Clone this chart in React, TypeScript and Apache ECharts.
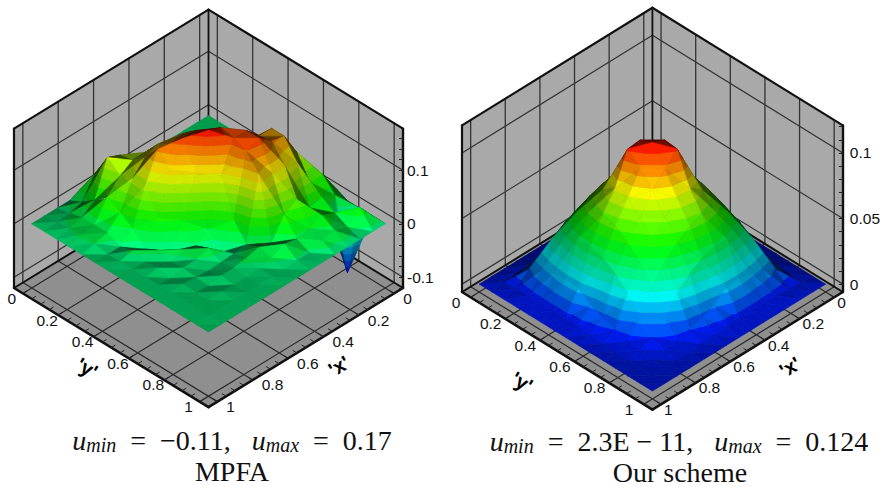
import React, { useEffect, useRef } from "react";
import * as echarts from "echarts";

// Heights on a 15 x 15 node mesh; row = x index, column = y index.
const mpfaHeights: number[][] = [
  [0,0,0,0,0,0,0,0,0,0,0,0,0,0,0],
  [0,0,0,0,0,.005,.012,.025,.04,.03,.05,.025,-.105,.03,0],
  [0,0,0,0,.005,.012,.03,.05,.09,.09,.05,.035,.02,.008,0],
  [0,0,0,.005,.012,.03,.05,.08,.135,.135,.1,.03,.03,.016,0],
  [0,0,.006,.012,.03,.05,.075,.11,.135,.14,.11,.06,.02,.012,0],
  [0,.005,.012,.03,.045,.075,.1,.135,.16,.16,.11,.045,.015,.003,0],
  [0,.012,.03,.05,.07,.1,.13,.165,.16,.15,.12,.008,.02,.004,0],
  [0,.02,.05,.075,.095,.14,.16,.175,.105,.036,.004,.014,.008,.001,0],
  [0,.045,.055,.09,.12,.135,.16,.11,.018,-.01,.002,.008,.003,.002,0],
  [0,.065,.085,.09,.11,.14,.115,.034,.002,.012,0,.004,.001,.001,0],
  [0,.05,.095,.075,.085,.085,.04,-.008,.01,.005,-.001,.004,.001,.001,0],
  [0,.012,.03,.05,.035,.02,-.004,.008,.001,.004,.001,-.001,.003,.001,0],
  [0,.005,.012,.012,.012,0,.008,.001,.004,-.001,.003,.001,.001,.001,0],
  [0,.003,.006,.008,.006,0,.002,.001,.001,.001,.001,.001,.001,.001,0],
  [0,0,0,0,0,0,0,0,0,0,0,0,0,0,0],
];
const schemeHeights: number[][] = [
  [0,0,0,0,0,0,0,0,0,0,0,0,0,0,0],
  [0,0,.0001,.0001,.0005,.001,.002,.003,.003,.003,.003,.003,.002,.0012,0],
  [0,.0001,.0005,.002,.003,.006,.009,.013,.02,.021,.019,.016,.011,.002,0],
  [0,.0001,.002,.006,.014,.028,.037,.043,.046,.046,.042,.036,.016,.003,0],
  [0,.0005,.003,.014,.033,.046,.055,.062,.065,.062,.056,.042,.019,.003,0],
  [0,.001,.006,.028,.046,.058,.068,.077,.079,.072,.062,.046,.021,.003,0],
  [0,.002,.009,.037,.055,.068,.088,.104,.103,.079,.065,.046,.02,.003,0],
  [0,.003,.013,.043,.062,.077,.104,.108,.094,.077,.062,.043,.013,.003,0],
  [0,.003,.02,.046,.065,.079,.103,.094,.083,.068,.055,.037,.009,.002,0],
  [0,.003,.021,.046,.062,.072,.079,.077,.068,.058,.046,.028,.006,.001,0],
  [0,.003,.019,.042,.056,.062,.065,.062,.055,.046,.033,.014,.003,.0005,0],
  [0,.003,.016,.036,.042,.046,.046,.043,.037,.028,.014,.006,.002,.0001,0],
  [0,.002,.011,.016,.019,.021,.02,.013,.009,.006,.003,.002,.0005,.0001,0],
  [0,.0012,.002,.003,.003,.003,.003,.003,.002,.001,.0005,.0001,.0001,0,0],
  [0,0,0,0,0,0,0,0,0,0,0,0,0,0,0],
];
const planeTicks = [0, 0.2, 0.4, 0.6, 0.8, 1];
const planeLabels = ["0", "0.2", "0.4", "0.6", "0.8", "1"];
const planeMinor = [0,.05,.1,.15,.2,.25,.3,.35,.4,.45,.5,.55,.6,.65,.7,.75,.8,.85,.9,.95,1];
const mpfaZMajor = [-0.1, 0, 0.1];
const mpfaZMinor = [-.12,-.1,-.08,-.06,-.04,-.02,0,.02,.04,.06,.08,.1,.12,.14,.16];
const schemeZMajor = [0, 0.05, 0.1];
const schemeZMinor = [0,.01,.02,.03,.04,.05,.06,.07,.08,.09,.1,.11,.12];
const captions = ["MPFA", "Our scheme"];

const LO = -0.05, HI = 1.05;
const FONT = "Liberation Sans";
type V3 = [number, number, number];
type Prim =
  | { k: "poly"; p: V3[]; fill: string }
  | { k: "line"; a: V3; b: V3; w: number; c: string }
  | { k: "text"; a: V3; t: string; dx: number; dy: number; align: string };

function buildFrame(zmin: number, zmax: number, zMajor: number[], xOff: number, yOff: number): Prim[] {
  const out: Prim[] = [];
  const wall = "#a9a9a9", floor = "#8f8f8f", grid = "#2b2b2b";
  out.push({ k: "poly", fill: wall, p: [[HI,LO,zmin],[LO,LO,zmin],[LO,LO,zmax],[HI,LO,zmax]] });
  out.push({ k: "poly", fill: wall, p: [[LO,HI,zmin],[LO,LO,zmin],[LO,LO,zmax],[LO,HI,zmax]] });
  out.push({ k: "poly", fill: floor, p: [[LO,LO,zmin],[HI,LO,zmin],[HI,HI,zmin],[LO,HI,zmin]] });
  planeTicks.forEach((v) => {
    out.push({ k: "line", a: [v,LO,zmin], b: [v,LO,zmax], w: 1.3, c: "#333" });
    out.push({ k: "line", a: [LO,v,zmin], b: [LO,v,zmax], w: 1.3, c: "#333" });
    out.push({ k: "line", a: [v,LO,zmin], b: [v,HI,zmin], w: 1.2, c: grid });
    out.push({ k: "line", a: [LO,v,zmin], b: [HI,v,zmin], w: 1.2, c: grid });
  });
  zMajor.forEach((z) => {
    out.push({ k: "line", a: [HI,LO,z], b: [LO,LO,z], w: 1.2, c: "#333" });
    out.push({ k: "line", a: [LO,LO,z], b: [LO,HI,z], w: 1.2, c: "#333" });
  });
  const edge = (a: V3, b: V3, w = 2.2) => out.push({ k: "line", a, b, w, c: "#111" });
  edge([HI,LO,zmax],[LO,LO,zmax]);
  edge([LO,LO,zmax],[LO,HI,zmax]);
  edge([LO,LO,zmin],[LO,LO,zmax], 1.8);
  edge([HI,LO,zmin],[HI,LO,zmax]);
  edge([HI,LO,zmin],[LO,LO,zmin], 2);
  edge([LO,LO,zmin],[LO,HI,zmin], 2);
  edge([HI,LO,zmin],[HI,HI,zmin], 2.6);
  edge([LO,HI,zmin],[HI,HI,zmin], 2.6);
  planeMinor.forEach((v) => {
    out.push({ k: "line", a: [v,HI,zmin], b: [v,HI-0.022,zmin], w: 1, c: "#222" });
    out.push({ k: "line", a: [HI,v,zmin], b: [HI-0.022,v,zmin], w: 1, c: "#222" });
  });
  planeTicks.forEach((v, n) => {
    out.push({ k: "text", a: [v,HI,zmin], t: planeLabels[n], dx: xOff, dy: 5, align: "left" });
    out.push({ k: "text", a: [HI,v,zmin], t: planeLabels[n], dx: yOff, dy: 5, align: "center" });
  });
  return out;
}

function rainbow(v: number): [number, number, number] {
  const s = Math.max(0, Math.min(1, v)) * 4;
  if (s < 1) return [0, 255 * s, 255];
  if (s < 2) return [0, 255, 255 * (2 - s)];
  if (s < 3) return [255 * (s - 2), 255, 0];
  return [255, 255 * (4 - s), 0];
}

function clipZ(poly: V3[], level: number, keepAbove: boolean): V3[] {
  const out: V3[] = [];
  for (let n = 0; n < poly.length; n++) {
    const a = poly[n], b = poly[(n + 1) % poly.length];
    const ina = keepAbove ? a[2] >= level : a[2] <= level;
    const inb = keepAbove ? b[2] >= level : b[2] <= level;
    if (ina) out.push(a);
    if (ina !== inb) {
      const t = (level - a[2]) / (b[2] - a[2]);
      out.push([a[0] + (b[0] - a[0]) * t, a[1] + (b[1] - a[1]) * t, level]);
    }
  }
  return out;
}

function buildTriangles(h: number[][]): V3[][] {
  const N = h.length - 1;
  const node = (i: number, j: number): V3 => [i / N, j / N, h[i][j]];
  const cells: V3[][] = [];
  for (let s = 0; s <= 2 * N - 2; s++) {
    for (let i = 0; i < N; i++) {
      const j = s - i;
      if (j < 0 || j >= N) continue;
      cells.push([node(i, j), node(i + 1, j), node(i, j + 1)]);
      cells.push([node(i + 1, j), node(i, j + 1), node(i + 1, j + 1)]);
    }
  }
  return cells;
}

function panelSeries(idx: number, slope: number, prims: Prim[], tris: V3[][], cmin: number, cmax: number, bands: number) {
  const project = (api: any, p: V3) => {
    const c = api.coord([p[1] - p[0], p[2]]);
    const dx = api.size([1, 0])[0];
    return [c[0], c[1] + (p[0] + p[1] - 1) * dx * slope];
  };
  const frame = {
    type: "custom", xAxisIndex: idx, yAxisIndex: idx, silent: true, clip: false, z: 2,
    data: prims.map((_, n) => [n, 0]),
    renderItem: (_: any, api: any) => {
      const q = prims[api.value(0)];
      if (q.k === "poly") {
        return { type: "polygon", shape: { points: q.p.map((v) => project(api, v)) }, style: { fill: q.fill } };
      }
      if (q.k === "line") {
        const a = project(api, q.a), b = project(api, q.b);
        return { type: "line", shape: { x1: a[0], y1: a[1], x2: b[0], y2: b[1] }, style: { stroke: q.c, lineWidth: q.w, lineCap: "round" } };
      }
      const a = project(api, q.a);
      return { type: "text", x: a[0] + q.dx, y: a[1] + q.dy, style: { text: q.t, fill: "#111", font: `15.5px "${FONT}"`, align: q.align, verticalAlign: "middle" } };
    },
  };
  const surface = {
    type: "custom", xAxisIndex: idx, yAxisIndex: idx, silent: true, clip: false, z: 3,
    data: tris.map((_, n) => [n, 0]),
    renderItem: (_: any, api: any) => {
      const tri = tris[api.value(0)];
      const dx = api.size([1, 0])[0];
      const dz = api.size([0, 1])[1];
      const cosEl = Math.sqrt(1 - slope * slope);
      const S = dx * Math.SQRT2, Zs = dz / cosEl;
      const w = tri.map((v) => [v[0] * S, v[1] * S, v[2] * Zs]);
      const u1 = [w[1][0]-w[0][0], w[1][1]-w[0][1], w[1][2]-w[0][2]];
      const u2 = [w[2][0]-w[0][0], w[2][1]-w[0][1], w[2][2]-w[0][2]];
      const n = [u1[1]*u2[2]-u1[2]*u2[1], u1[2]*u2[0]-u1[0]*u2[2], u1[0]*u2[1]-u1[1]*u2[0]];
      const len = Math.hypot(n[0], n[1], n[2]) || 1;
      const lit = Math.abs((n[0]+n[1]) * cosEl / Math.SQRT2 + n[2] * slope) / len;
      const shade = Math.max(0.28, Math.min(1, lit));
      const children: any[] = [];
      const step = (cmax - cmin) / bands;
      for (let b = 0; b < bands; b++) {
        let poly = tri;
        if (b > 0) poly = clipZ(poly, cmin + b * step, true);
        if (poly.length && b < bands - 1) poly = clipZ(poly, cmin + (b + 1) * step, false);
        if (poly.length < 3) continue;
        const col = rainbow((b + 0.5) / bands).map((c) => Math.round(c * shade));
        const fill = `rgb(${col[0]},${col[1]},${col[2]})`;
        children.push({ type: "polygon", shape: { points: poly.map((v) => project(api, v)) }, style: { fill, stroke: fill, lineWidth: 0.6 } });
      }
      return { type: "group", children };
    },
  };
  return [frame, surface];
}

function zAxis(gridIndex: number, min: number, max: number, major: number[], minor: number[], margin: number) {
  return {
    type: "value", gridIndex, position: "right", min, max, z: 10,
    axisLine: { show: true, onZero: false, lineStyle: { color: "#111", width: 2.4 } },
    axisTick: { show: true, inside: true, length: 4, customValues: minor, lineStyle: { color: "#222", width: 1 } },
    axisLabel: { show: true, inside: false, margin, customValues: major, color: "#111", fontFamily: FONT, fontSize: 15.5,
      formatter: (v: number) => String(+Number(v).toFixed(3)) },
    splitLine: { show: false },
  };
}

function caption(x: number, y: number, text: string) {
  return { type: "text", x, y, z: 20, style: { text, fill: "#111", font: '28px "Liberation Serif"', align: "center", verticalAlign: "middle" } };
}
function mathCaption(x: number, y: number, a: string, b: string) {
  const base = { fontFamily: "Liberation Serif", fontSize: 28, fill: "#111" };
  const sub = { fontFamily: "Liberation Serif", fontStyle: "italic", fontSize: 20, fill: "#111", padding: [9, 0, 0, 0] };
  return {
    type: "text", x, y, z: 20,
    style: {
      text: `{i|u}{s|min}{r|  =  ${a},   }{i|u}{s|max}{r|  =  ${b}}`,
      align: "center", verticalAlign: "middle",
      rich: { i: { ...base, fontStyle: "italic" }, s: sub, r: base },
    },
  };
}
function axisName(x: number, y: number, text: string, rotation: number) {
  return { type: "text", x, y, rotation, z: 20, style: { text, fill: "#000", font: 'bold 20px "Liberation Sans"', align: "center", verticalAlign: "middle" } };
}

export default function App() {
  const ref = useRef<HTMLDivElement>(null);
  useEffect(() => {
    const chart = echarts.init(ref.current!, undefined, { renderer: "svg" });
    const leftZ = [-0.12, 0.178], rightZ = [-0.006, 0.121];
    chart.setOption({
      animation: false,
      backgroundColor: "#fff",
      grid: [
        { left: 14, top: 128.6, width: 389, height: 159.4 },
        { left: 462, top: 125.4, width: 382, height: 166.6 },
      ],
      xAxis: [
        { type: "value", gridIndex: 0, min: -1.1, max: 1.1, show: false },
        { type: "value", gridIndex: 1, min: -1.1, max: 1.1, show: false },
      ],
      yAxis: [
        zAxis(0, leftZ[0], leftZ[1], mpfaZMajor, mpfaZMinor, 4),
        zAxis(1, rightZ[0], rightZ[1], schemeZMajor, schemeZMinor, 7),
      ],
      series: [
        ...panelSeries(0, 0.612, buildFrame(leftZ[0], leftZ[1], mpfaZMajor, 9, -11), buildTriangles(mpfaHeights), -0.11, 0.18, 20),
        ...panelSeries(1, 0.618, buildFrame(rightZ[0], rightZ[1], schemeZMajor, 3, -14.6), buildTriangles(schemeHeights), 0, 0.108, 18),
      ],
      graphic: [
        mathCaption(232, 440, "\u22120.11", "0.17"),
        mathCaption(679, 441, "2.3E \u2212 11", "0.124"),
        caption(232, 471, captions[0]),
        caption(680, 472, captions[1]),
        axisName(87, 368, "'y'", -0.54),
        axisName(339, 366, "'x'", 0.54),
        axisName(522, 382, "'y'", -0.54),
        axisName(790, 367, "'x'", 0.54),
      ],
    });
    return () => chart.dispose();
  }, []);
  return <div ref={ref} style={{ position: "absolute", left: 0, top: 0, width: 883, height: 487 }} />;
}
